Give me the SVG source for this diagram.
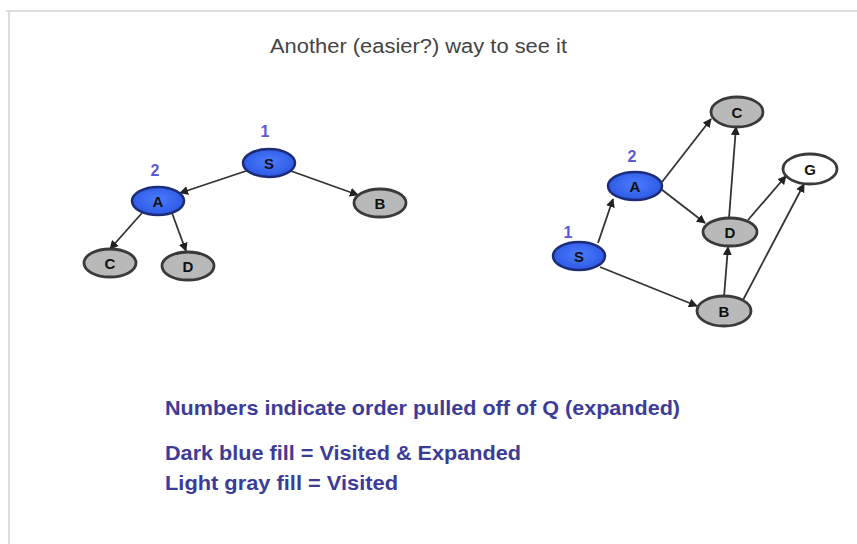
<svg xmlns="http://www.w3.org/2000/svg" width="857" height="544" viewBox="0 0 857 544">
<defs>
<marker id="ah" viewBox="0 0 10 10" refX="9" refY="5" markerWidth="9" markerHeight="9" markerUnits="userSpaceOnUse" orient="auto">
<path d="M0,0 L10,5 L0,10 z" fill="#222"/>
</marker>
<radialGradient id="bl" cx="50%" cy="45%" r="60%">
<stop offset="0" stop-color="#4a7cff"/>
<stop offset="1" stop-color="#2b55e0"/>
</radialGradient>
</defs>
<style>
.frame{stroke:#d4d4d4;stroke-width:1.5;fill:none}
.edge{stroke:#333;stroke-width:1.8;fill:none;marker-end:url(#ah)}
.blue{fill:url(#bl);stroke:#1c2c78;stroke-width:2.5}
.gray{fill:#b9b9b9;stroke:#3a3a3a;stroke-width:2.8}
.white{fill:#fff;stroke:#3a3a3a;stroke-width:2.8}
.lbl{font-family:"Liberation Sans",Arial,sans-serif;font-weight:bold;font-size:15px;fill:#111;text-anchor:middle}
.num{font-family:"Liberation Sans",Arial,sans-serif;font-weight:bold;font-size:16px;fill:#5a5ad2;text-anchor:middle}
.title{font-family:"Liberation Sans",Arial,sans-serif;font-size:20px;fill:#444}
.note{font-family:"Liberation Sans",Arial,sans-serif;font-weight:bold;font-size:21px;fill:#3c3c98}
</style>
<rect width="857" height="544" fill="#fff"/>
<path class="frame" d="M6,11 H857 M9,11 V544"/>
<text class="title" x="270" y="53" textLength="297" lengthAdjust="spacingAndGlyphs">Another (easier?) way to see it</text>

<g id="connectors">
<line class="edge" x1="249" y1="170" x2="180" y2="193"/>
<line class="edge" x1="291" y1="171" x2="358" y2="195"/>
<line class="edge" x1="142" y1="213" x2="110" y2="249"/>
<line class="edge" x1="172" y1="213" x2="186" y2="251"/>

<line class="edge" x1="598" y1="243" x2="613" y2="199"/>
<line class="edge" x1="662" y1="182" x2="711" y2="119"/>
<line class="edge" x1="661" y1="189" x2="705" y2="223"/>
<line class="edge" x1="600" y1="267" x2="697" y2="306"/>
<line class="edge" x1="729" y1="218" x2="736" y2="127"/>
<line class="edge" x1="748" y1="220" x2="786" y2="176"/>
<line class="edge" x1="724" y1="297" x2="728" y2="247"/>
<line class="edge" x1="742" y1="302" x2="804" y2="184"/>
</g>

<g id="L-S"><ellipse class="blue" cx="269" cy="163" rx="26" ry="14"/><text class="lbl" x="269" y="168.5">S</text><text class="num" x="265" y="137">1</text></g>
<g id="L-A"><ellipse class="blue" cx="158" cy="201" rx="26" ry="14"/><text class="lbl" x="158" y="206.5">A</text><text class="num" x="155" y="176">2</text></g>
<g id="L-B"><ellipse class="gray" cx="380" cy="203" rx="26" ry="14"/><text class="lbl" x="380" y="208.5">B</text></g>
<g id="L-C"><ellipse class="gray" cx="110" cy="263" rx="26" ry="14"/><text class="lbl" x="110" y="268.5">C</text></g>
<g id="L-D"><ellipse class="gray" cx="188" cy="266" rx="26" ry="14"/><text class="lbl" x="188" y="271.5">D</text></g>

<g id="R-S"><ellipse class="blue" cx="579" cy="256" rx="26" ry="14"/><text class="lbl" x="579" y="261.5">S</text><text class="num" x="568" y="238">1</text></g>
<g id="R-A"><ellipse class="blue" cx="635" cy="186" rx="27" ry="14"/><text class="lbl" x="635" y="191.5">A</text><text class="num" x="632" y="162">2</text></g>
<g id="R-C"><ellipse class="gray" cx="737" cy="112" rx="26" ry="15"/><text class="lbl" x="737" y="117.5">C</text></g>
<g id="R-G"><ellipse class="white" cx="810" cy="169" rx="27" ry="15"/><text class="lbl" x="810" y="174.5">G</text></g>
<g id="R-D"><ellipse class="gray" cx="730" cy="232" rx="27" ry="14"/><text class="lbl" x="730" y="237.5">D</text></g>
<g id="R-B"><ellipse class="gray" cx="724" cy="311" rx="27" ry="15"/><text class="lbl" x="724" y="316.5">B</text></g>

<text class="note" x="165" y="415" textLength="515" lengthAdjust="spacingAndGlyphs">Numbers indicate order pulled off of Q (expanded)</text>
<text class="note" x="165" y="460" textLength="356" lengthAdjust="spacingAndGlyphs">Dark blue fill = Visited &amp; Expanded</text>
<text class="note" x="165" y="490" textLength="233" lengthAdjust="spacingAndGlyphs">Light gray fill = Visited</text>
</svg>
